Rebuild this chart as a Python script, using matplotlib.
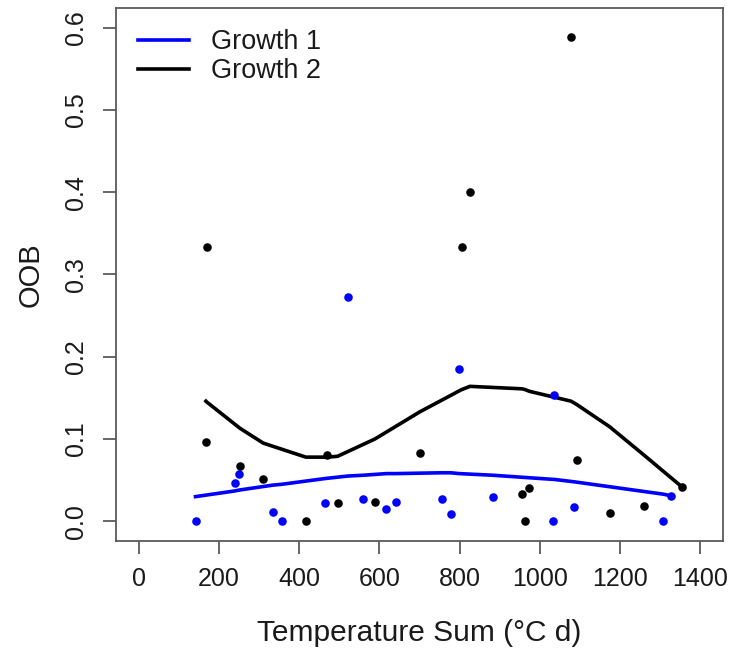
import numpy as np
import matplotlib.pyplot as plt

plt.rcParams['font.family'] = ['Liberation Sans', 'DejaVu Sans']

# ── Data: out-of-bag error vs temperature sum ───────────
g1_x = [142, 241, 251, 335, 357, 465, 521, 560, 618, 641,
        757, 778, 799, 883, 1032, 1035, 1086, 1308, 1327]
g1_y = [0.000, 0.047, 0.057, 0.011, 0.000, 0.022, 0.272, 0.027, 0.015, 0.024,
        0.027, 0.009, 0.185, 0.030, 0.000, 0.154, 0.017, 0.000, 0.031]
g1_fit = [0.030, 0.037, 0.038, 0.044, 0.045, 0.052, 0.055, 0.056, 0.058, 0.058,
          0.059, 0.059, 0.058, 0.056, 0.051, 0.051, 0.048, 0.033, 0.031]

g2_x = [168, 170, 253, 311, 417, 470, 496, 589, 701, 805,
        826, 956, 964, 974, 1078, 1092, 1174, 1261, 1354]
g2_y = [0.096, 0.333, 0.067, 0.051, 0.000, 0.081, 0.022, 0.023, 0.083, 0.333,
        0.400, 0.033, 0.000, 0.041, 0.588, 0.074, 0.010, 0.019, 0.042]
g2_fit = [0.146, 0.145, 0.113, 0.095, 0.078, 0.078, 0.079, 0.100, 0.133, 0.160,
          0.164, 0.161, 0.160, 0.158, 0.146, 0.142, 0.115, 0.080, 0.042]

x_ticks = [0, 200, 400, 600, 800, 1000, 1200, 1400]
y_ticks = [0.0, 0.1, 0.2, 0.3, 0.4, 0.5, 0.6]

# ── Plot ────────────────────────────────────────────────
fig = plt.figure(figsize=(7.3, 6.48), dpi=100)
ax = fig.add_axes([0.159, 0.165, 0.831, 0.823])

ax.scatter(g1_x, g1_y, s=38, color='blue', zorder=3, linewidths=0)
ax.scatter(g2_x, g2_y, s=38, color='black', zorder=3, linewidths=0)
ax.plot(g1_x, g1_fit, color='blue', lw=2.6, label='Growth 1')
ax.plot(g2_x, g2_fit, color='black', lw=2.6, label='Growth 2')

ax.set_xlim(-56, 1456)
ax.set_ylim(-0.024, 0.624)
ax.set_xticks(x_ticks)
ax.set_yticks(y_ticks)
ax.set_yticklabels([f"{v:.1f}" for v in y_ticks], rotation=90, va='center')

edge = '#5a5a5a'
for sp in ax.spines.values():
    sp.set_color(edge)
    sp.set_linewidth(1.3)
ax.tick_params(length=9.5, width=1.3, color=edge, labelsize=18,
               labelcolor='#1a1a1a')
ax.tick_params(axis='x', pad=9)
ax.tick_params(axis='y', pad=11)

ax.set_xlabel("Temperature Sum (°C d)", fontsize=21.5, color='#1a1a1a', labelpad=20)
ax.set_ylabel("OOB", fontsize=21, color='#1a1a1a', labelpad=14)

ax.legend(loc='upper left', bbox_to_anchor=(0.0, 1.0), frameon=False,
          fontsize=19.5, handlelength=1.9, handletextpad=0.8,
          labelspacing=0.1, borderaxespad=0.4, labelcolor='#1a1a1a')

plt.savefig("out.png", dpi=100)
